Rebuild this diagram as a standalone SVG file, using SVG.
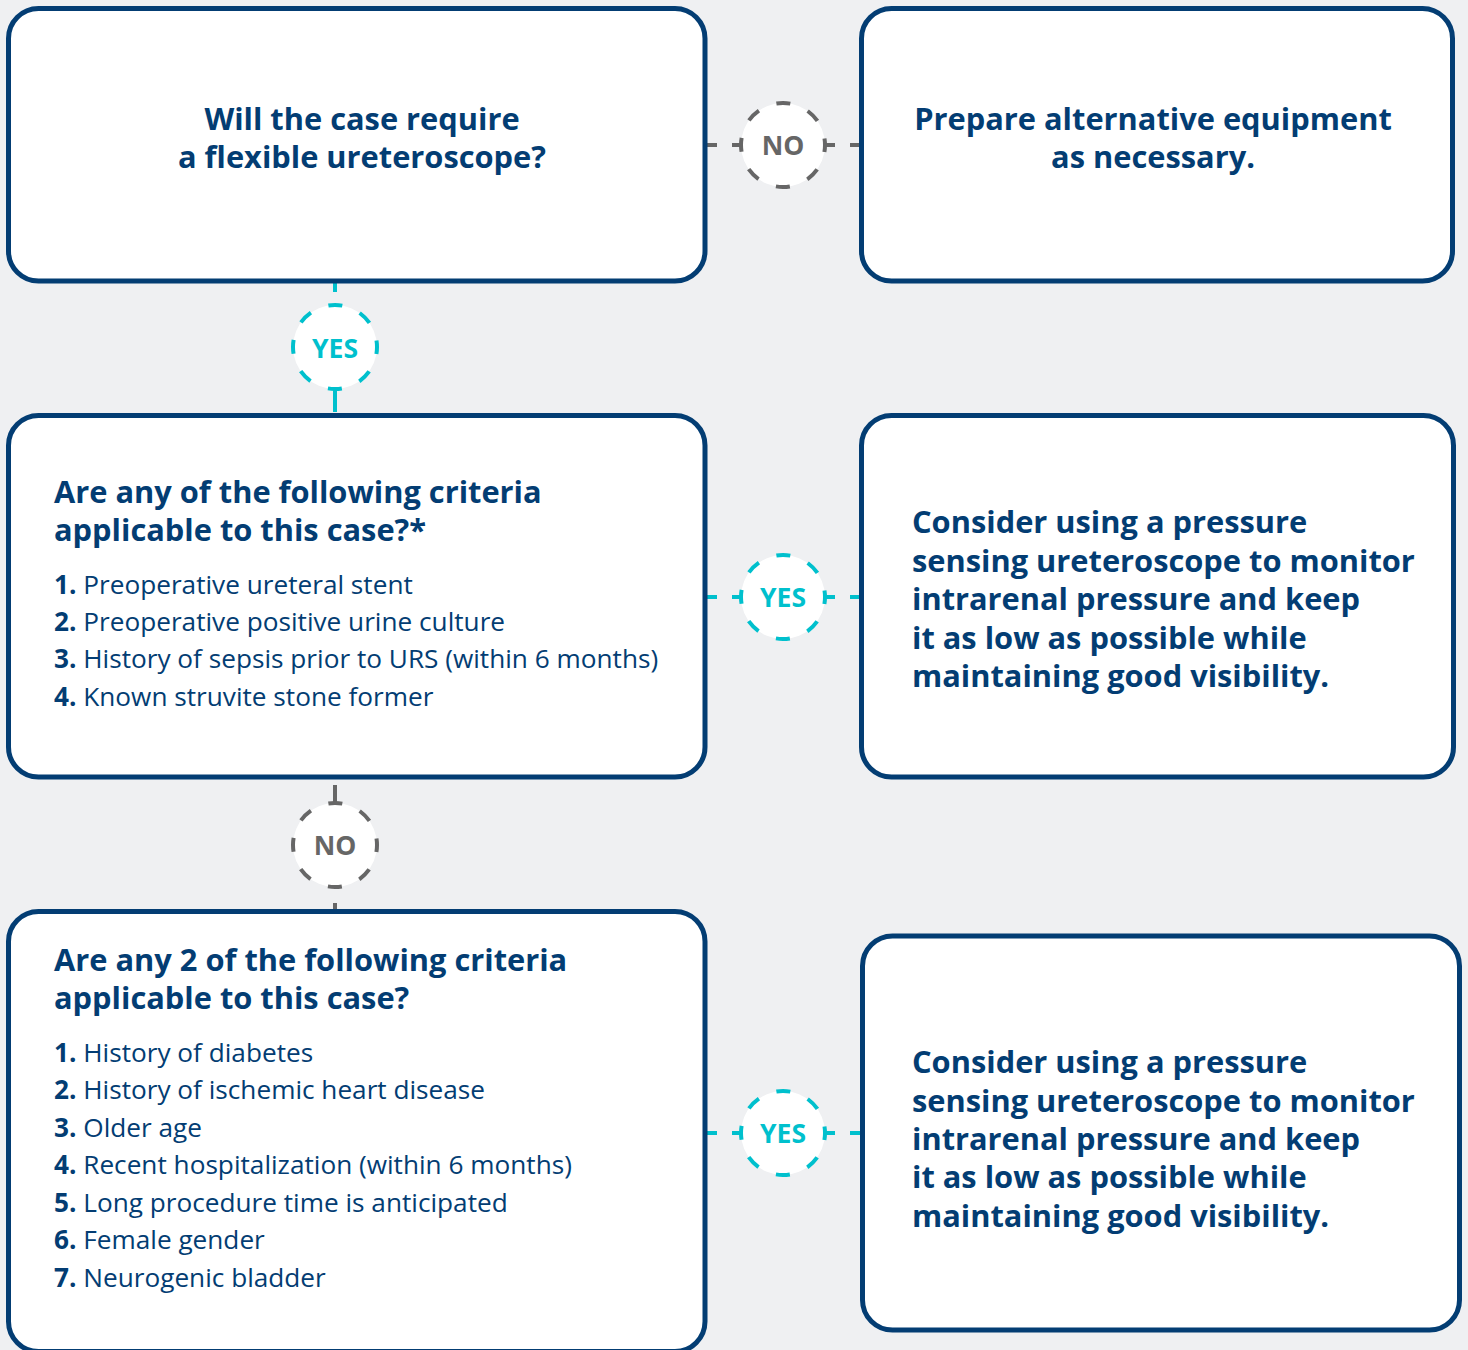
<svg xmlns="http://www.w3.org/2000/svg" width="1468" height="1350" viewBox="0 0 1468 1350">
<style>
.box{fill:#fff;stroke:#033d73;stroke-width:5}
.t{font-family:"Open Sans","Noto Sans",sans-serif;font-weight:700;font-size:30.8px;fill:#033d73}
.c{text-anchor:middle}
.li{font-family:"Open Sans","Noto Sans",sans-serif;font-weight:400;font-size:26.2px;fill:#033d73}
.li tspan.n{font-weight:700}
.ring{fill:#fff;stroke-width:4;stroke-dasharray:14 18.99;stroke-dashoffset:7}
.no{stroke:#666}
.yes{stroke:#00c0cd}
.lt{font-family:"Open Sans","Noto Sans",sans-serif;font-weight:700;font-size:26.5px;text-anchor:middle}
.ln{stroke-width:4;fill:none}
</style>
<rect width="1468" height="1350" fill="#eff0f2"/>
<g id="connectors">
  <g id="c-no-top">
    <line class="ln no" x1="707" y1="145" x2="717" y2="145"/>
    <line class="ln no" x1="732" y1="145" x2="742" y2="145"/>
    <line class="ln no" x1="824" y1="145" x2="835" y2="145"/>
    <line class="ln no" x1="850" y1="145" x2="859" y2="145"/>
    <circle class="ring no" cx="783" cy="145" r="42"/>
    <text class="lt" x="783" y="154.5" fill="#666">NO</text>
  </g>
  <g id="c-yes-top">
    <line class="ln yes" x1="335" y1="283" x2="335" y2="292"/>
    <line class="ln yes" x1="335" y1="388" x2="335" y2="412"/>
    <circle class="ring yes" cx="335" cy="347" r="42"/>
    <text class="lt" x="335" y="357.5" fill="#00c0cd">YES</text>
  </g>
  <g id="c-yes-mid">
    <line class="ln yes" x1="707" y1="597" x2="717" y2="597"/>
    <line class="ln yes" x1="732" y1="597" x2="742" y2="597"/>
    <line class="ln yes" x1="824" y1="597" x2="835" y2="597"/>
    <line class="ln yes" x1="850" y1="597" x2="859" y2="597"/>
    <circle class="ring yes" cx="783" cy="597" r="42"/>
    <text class="lt" x="783" y="606.5" fill="#00c0cd">YES</text>
  </g>
  <g id="c-no-mid">
    <line class="ln no" x1="335" y1="785" x2="335" y2="805"/>
    <line class="ln no" x1="335" y1="903" x2="335" y2="910"/>
    <circle class="ring no" cx="335" cy="845" r="42"/>
    <text class="lt" x="335" y="854.5" fill="#666">NO</text>
  </g>
  <g id="c-yes-bot">
    <line class="ln yes" x1="707" y1="1133" x2="717" y2="1133"/>
    <line class="ln yes" x1="732" y1="1133" x2="742" y2="1133"/>
    <line class="ln yes" x1="824" y1="1133" x2="835" y2="1133"/>
    <line class="ln yes" x1="850" y1="1133" x2="861" y2="1133"/>
    <circle class="ring yes" cx="783" cy="1133" r="42"/>
    <text class="lt" x="783" y="1142.5" fill="#00c0cd">YES</text>
  </g>
</g>
<g id="n1">
  <rect class="box" x="8.5" y="8.5" width="696.5" height="272.5" rx="30"/>
  <text class="t c" x="362" y="130">Will the case require</text>
  <text class="t c" x="362" y="168">a flexible ureteroscope?</text>
</g>
<g id="n2">
  <rect class="box" x="861.5" y="8.5" width="591" height="272.5" rx="30"/>
  <text class="t c" x="1153" y="130">Prepare alternative equipment</text>
  <text class="t c" x="1153" y="168">as necessary.</text>
</g>
<g id="n3">
  <rect class="box" x="8.5" y="415.5" width="696.5" height="361.5" rx="30"/>
  <text class="t" x="54" y="503">Are any of the following criteria</text>
  <text class="t" x="54" y="541">applicable to this case?*</text>
  <text class="li" x="54" y="594"><tspan class="n">1.</tspan> Preoperative ureteral stent</text>
  <text class="li" x="54" y="631"><tspan class="n">2.</tspan> Preoperative positive urine culture</text>
  <text class="li" x="54" y="668"><tspan class="n">3.</tspan> History of sepsis prior to URS (within 6 months)</text>
  <text class="li" x="54" y="706"><tspan class="n">4.</tspan> Known struvite stone former</text>
</g>
<g id="n4">
  <rect class="box" x="861.5" y="415.5" width="592" height="361.5" rx="30"/>
  <text class="t" x="912" y="533">Consider using a pressure</text>
  <text class="t" x="912" y="572">sensing ureteroscope to monitor</text>
  <text class="t" x="912" y="610">intrarenal pressure and keep</text>
  <text class="t" x="912" y="649">it as low as possible while</text>
  <text class="t" x="912" y="687">maintaining good visibility.</text>
</g>
<g id="n5">
  <rect class="box" x="8.5" y="911.5" width="696.5" height="440" rx="30"/>
  <text class="t" x="54" y="971">Are any 2 of the following criteria</text>
  <text class="t" x="54" y="1009">applicable to this case?</text>
  <text class="li" x="54" y="1062"><tspan class="n">1.</tspan> History of diabetes</text>
  <text class="li" x="54" y="1099"><tspan class="n">2.</tspan> History of ischemic heart disease</text>
  <text class="li" x="54" y="1137"><tspan class="n">3.</tspan> Older age</text>
  <text class="li" x="54" y="1174"><tspan class="n">4.</tspan> Recent hospitalization (within 6 months)</text>
  <text class="li" x="54" y="1212"><tspan class="n">5.</tspan> Long procedure time is anticipated</text>
  <text class="li" x="54" y="1249"><tspan class="n">6.</tspan> Female gender</text>
  <text class="li" x="54" y="1287"><tspan class="n">7.</tspan> Neurogenic bladder</text>
</g>
<g id="n6">
  <rect class="box" x="862.5" y="936" width="597" height="394" rx="30"/>
  <text class="t" x="912" y="1073">Consider using a pressure</text>
  <text class="t" x="912" y="1112">sensing ureteroscope to monitor</text>
  <text class="t" x="912" y="1150">intrarenal pressure and keep</text>
  <text class="t" x="912" y="1188">it as low as possible while</text>
  <text class="t" x="912" y="1227">maintaining good visibility.</text>
</g>
</svg>
